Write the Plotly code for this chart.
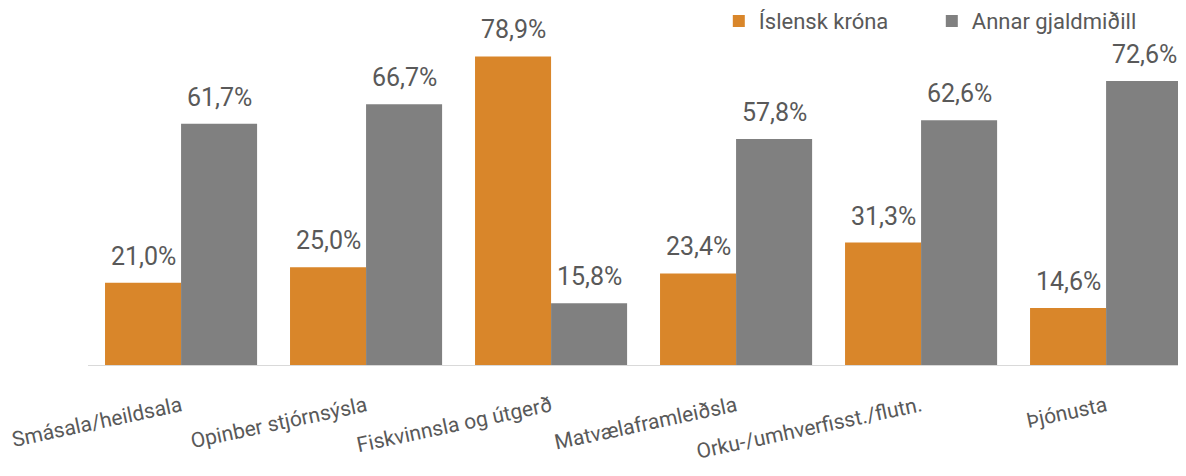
import plotly.graph_objects as go

categories = ["Smásala/heildsala", "Opinber stjórnsýsla", "Fiskvinnsla og útgerð",
              "Matvælaframleiðsla", "Orku-/umhverfisst./flutn.", "Þjónusta"]
islensk = [21.0, 25.0, 78.9, 23.4, 31.3, 14.6]
annar = [61.7, 66.7, 15.8, 57.8, 62.6, 72.6]
series_names = ["Íslensk króna", "Annar gjaldmiðill"]
colors = ["#D9862A", "#808080"]

FONT = "Roboto"
TXT = "#595959"
idx = list(range(len(categories)))

fig = go.Figure()
for name, vals, col in zip(series_names, [islensk, annar], colors):
    fig.add_trace(go.Bar(x=idx, y=vals, name=name, marker_color=col, marker_line_width=0))

bw = (1 - 0.178) / 2
annotations = []
for vals, off in [(islensk, -bw / 2), (annar, bw / 2)]:
    for i, v in zip(idx, vals):
        annotations.append(dict(x=i + off, y=v, text=f"{v:.1f}".replace(".", ",") + "%",
                                showarrow=False, yanchor="bottom", yshift=10,
                                font=dict(family=FONT, size=25, color=TXT)))

# the page body has an 8px default margin, so the figure is sized/offset for it
fig.update_layout(
    width=1178, height=468,
    margin=dict(l=80, r=0, t=5, b=111, autoexpand=False),
    plot_bgcolor="white", paper_bgcolor="white",
    barmode="group", bargap=0.178, bargroupgap=0,
    font=dict(family=FONT, size=21, color=TXT),
    showlegend=True,
    legend=dict(orientation="h", xref="paper", yref="paper",
                x=0.5745, y=0.977, xanchor="left", yanchor="middle",
                font=dict(family=FONT, size=22, color=TXT),
                entrywidth=168, entrywidthmode="pixels", traceorder="normal"),
    annotations=annotations,
)
fig.update_xaxes(range=[-0.503, 5.432], tickvals=idx, ticktext=categories,
                 tickangle=-12, showgrid=False, zeroline=False, automargin=False,
                 showline=True, linecolor="#D9D9D9", linewidth=1,
                 ticks="", ticklabelstandoff=20, ticklabeloverflow="allow",
                 tickfont=dict(family=FONT, size=21, color=TXT))
fig.update_yaxes(range=[0, 90], visible=False, showgrid=False, zeroline=False,
                 automargin=False)

fig.write_html("out.html")
